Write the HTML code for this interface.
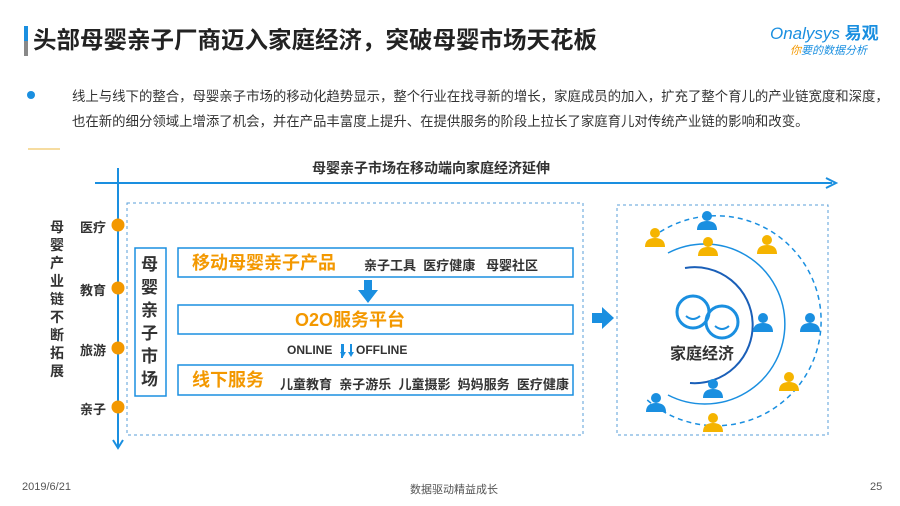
<!DOCTYPE html>
<html><head><meta charset="utf-8"><style>
body{margin:0;width:900px;height:506px;background:#fff;font-family:"Liberation Sans","Noto Sans CJK SC",sans-serif;position:relative;overflow:hidden}
.a{position:absolute;white-space:nowrap}
</style></head><body>
<div class="a" style="left:24px;top:26px;width:4px;height:30px;background:linear-gradient(#1a8fe0 50%,#888 50%)"></div>
<div class="a" style="left:33px;top:24px;font-size:23.5px;font-weight:bold;color:#222;line-height:32px">头部母婴亲子厂商迈入家庭经济，突破母婴市场天花板</div>
<div class="a" style="left:770px;top:24px;font-size:17px;color:#1a8fe0;font-style:italic;line-height:20px">Onalysys <b style="font-style:normal">易观</b></div>
<div class="a" style="left:790px;top:44px;font-size:11px;color:#1a8fe0;font-style:italic;line-height:14px"><span style="color:#f39800">你</span>要的数据分析</div>
<div class="a" style="left:27px;top:91px;width:8px;height:8px;border-radius:50%;background:#1a8fe0"></div>
<div class="a" style="left:72px;top:84px;font-size:13.4px;color:#333;line-height:25px">线上与线下的整合，母婴亲子市场的移动化趋势显示，整个行业在找寻新的增长，家庭成员的加入，扩充了整个育儿的产业链宽度和深度，<br>也在新的细分领域上增添了机会，并在产品丰富度上提升、在提供服务的阶段上拉长了家庭育儿对传统产业链的影响和改变。</div>
<div class="a" style="left:28px;top:148px;width:32px;height:2px;background:#f6dca0"></div>
<div class="a" style="left:312px;top:158px;font-size:14px;font-weight:bold;color:#333">母婴亲子市场在移动端向家庭经济延伸</div>
<svg class="a" style="left:0;top:0" width="900" height="506">
<line x1="95" y1="183" x2="832" y2="183" stroke="#1a8fe0" stroke-width="2"/>
<path d="M826 178 L836 183 L826 188" fill="none" stroke="#1a8fe0" stroke-width="2"/>
<line x1="118" y1="168" x2="118" y2="446" stroke="#1a8fe0" stroke-width="2"/>
<path d="M113 440 L118 448 L123 440" fill="none" stroke="#1a8fe0" stroke-width="2"/>
<g fill="#f39800"><circle cx="118" cy="225" r="6.5"/><circle cx="118" cy="288" r="6.5"/><circle cx="118" cy="348" r="6.5"/><circle cx="118" cy="407" r="6.5"/></g>
<rect x="127" y="203" width="456" height="232" fill="none" stroke="#5a9fd8" stroke-dasharray="3,3"/>
<rect x="135" y="248" width="31" height="148" fill="none" stroke="#1a8fe0" stroke-width="1.5"/>
<rect x="178" y="248" width="395" height="29" fill="none" stroke="#1a8fe0" stroke-width="1.5"/>
<rect x="178" y="305" width="395" height="29" fill="none" stroke="#1a8fe0" stroke-width="1.5"/>
<rect x="178" y="365" width="395" height="30" fill="none" stroke="#1a8fe0" stroke-width="1.5"/>
<path d="M364 280 h8 v10 h6 l-10 13 l-10 -13 h6z" fill="#1a8fe0"/>
<path d="M343 357 l-3 -5 h2 v-8 h2 v8 h2z" fill="#1a8fe0"/>
<rect x="341" y="344" width="2" height="14" fill="#1a8fe0"/>
<path d="M350 344 v8 h-2 l3 5 l3 -5 h-2 v-8z" fill="#1a8fe0"/>
<path d="M592 313 h10 v-6 l12 11 l-12 11 v-6 h-10z" fill="#1a8fe0"/>
<rect x="617" y="205" width="211" height="230" fill="none" stroke="#5a9fd8" stroke-dasharray="3,3"/>
<path d="M685 268 A58 58 0 1 1 690 383" fill="none" stroke="#1a5fb8" stroke-width="2"/>
<path d="M668 253 A80 80 0 1 1 668 395" fill="none" stroke="#1a8fe0" stroke-width="1.5"/>
<path d="M660 232 A105 105 0 1 1 645 398" fill="none" stroke="#1a8fe0" stroke-width="1.5" stroke-dasharray="5,4"/>
<g fill="#1a8fe0">
<g transform="translate(707,216)"><circle r="5"/><path d="M-10 14 q0 -9 10 -9 q10 0 10 9z"/></g>
<g transform="translate(763,318)"><circle r="5"/><path d="M-10 14 q0 -9 10 -9 q10 0 10 9z"/></g>
<g transform="translate(810,318)"><circle r="5"/><path d="M-10 14 q0 -9 10 -9 q10 0 10 9z"/></g>
<g transform="translate(713,384)"><circle r="5"/><path d="M-10 14 q0 -9 10 -9 q10 0 10 9z"/></g>
<g transform="translate(656,398)"><circle r="5"/><path d="M-10 14 q0 -9 10 -9 q10 0 10 9z"/></g>
</g>
<g fill="#f5b400">
<g transform="translate(655,233)"><circle r="5"/><path d="M-10 14 q0 -9 10 -9 q10 0 10 9z"/></g>
<g transform="translate(708,242)"><circle r="5"/><path d="M-10 14 q0 -9 10 -9 q10 0 10 9z"/></g>
<g transform="translate(767,240)"><circle r="5"/><path d="M-10 14 q0 -9 10 -9 q10 0 10 9z"/></g>
<g transform="translate(789,377)"><circle r="5"/><path d="M-10 14 q0 -9 10 -9 q10 0 10 9z"/></g>
<g transform="translate(713,418)"><circle r="5"/><path d="M-10 14 q0 -9 10 -9 q10 0 10 9z"/></g>
</g>
<circle cx="693" cy="312" r="16" fill="none" stroke="#1a8fe0" stroke-width="3"/>
<circle cx="722" cy="322" r="16" fill="none" stroke="#1a8fe0" stroke-width="3"/>
<path d="M686 316 q7 6 14 0 M715 326 q7 6 14 0" fill="none" stroke="#1a8fe0" stroke-width="2"/>
</svg>
<div class="a" style="left:50px;top:218px;width:16px;font-size:14px;font-weight:bold;color:#333;line-height:18px;white-space:normal">母婴产业链不断拓展</div>
<div class="a" style="left:80px;top:217px;font-size:13px;font-weight:bold;color:#333">医疗</div>
<div class="a" style="left:80px;top:280px;font-size:13px;font-weight:bold;color:#333">教育</div>
<div class="a" style="left:80px;top:340px;font-size:13px;font-weight:bold;color:#333">旅游</div>
<div class="a" style="left:80px;top:399px;font-size:13px;font-weight:bold;color:#333">亲子</div>
<div class="a" style="left:141px;top:253px;width:20px;font-size:17px;font-weight:bold;color:#333;line-height:23px;white-space:normal">母婴亲子市场</div>
<div class="a" style="left:192px;top:251px;font-size:18px;font-weight:bold;color:#f39800;line-height:24px">移动母婴亲子产品</div>
<div class="a" style="left:364px;top:255px;font-size:13px;font-weight:bold;color:#333">亲子工具&nbsp;&nbsp;医疗健康&nbsp;&nbsp;&nbsp;母婴社区</div>
<div class="a" style="left:295px;top:308px;font-size:18px;font-weight:bold;color:#f39800;line-height:24px">O2O服务平台</div>
<div class="a" style="left:287px;top:343px;font-size:12px;font-weight:bold;color:#333">ONLINE</div>
<div class="a" style="left:356px;top:343px;font-size:12px;font-weight:bold;color:#333">OFFLINE</div>
<div class="a" style="left:192px;top:368px;font-size:18px;font-weight:bold;color:#f39800;line-height:24px">线下服务</div>
<div class="a" style="left:280px;top:374px;font-size:13px;font-weight:bold;color:#333">儿童教育&nbsp;&nbsp;亲子游乐&nbsp;&nbsp;儿童摄影&nbsp;&nbsp;妈妈服务&nbsp;&nbsp;医疗健康</div>
<div class="a" style="left:670px;top:340px;font-size:16px;font-weight:bold;color:#333">家庭经济</div>
<div class="a" style="left:22px;top:481px;font-size:11px;color:#555">2019/6/21</div>
<div class="a" style="left:410px;top:481px;font-size:11px;color:#555">数据驱动精益成长</div>
<div class="a" style="left:870px;top:481px;font-size:11px;color:#555">25</div>
</body></html>
